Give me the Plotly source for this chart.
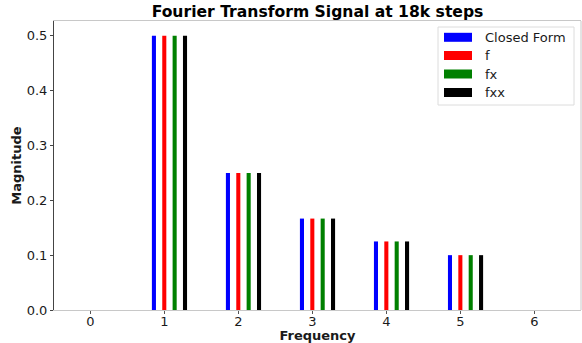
import plotly.graph_objects as go

frequencies = [1, 2, 3, 4, 5]
closed_form = [0.5, 0.25, 0.1667, 0.125, 0.1]
f_vals = [0.5, 0.25, 0.1667, 0.125, 0.1]
fx_vals = [0.5, 0.25, 0.1667, 0.125, 0.1]
fxx_vals = [0.5, 0.25, 0.1667, 0.125, 0.1]
series_names = ["Closed Form", "f", "fx", "fxx"]
x_ticks = [0, 1, 2, 3, 4, 5, 6]
y_ticks = [0.0, 0.1, 0.2, 0.3, 0.4, 0.5]

colors = ["#0000ff", "#ff0000", "#008000", "#000000"]
shifts = [-0.14, 0.0, 0.14, 0.28]
bar_w = 0.055

# plot area in pixels (for the hand-built legend box)
L, R, T, B = 54, 581, 21, 310


def px(xp):
    return (xp - L) / (R - L)


def py(yp):
    return (B - yp) / (B - T)


fig = go.Figure()
for name, vals, col, sh in zip(series_names, [closed_form, f_vals, fx_vals, fxx_vals], colors, shifts):
    fig.add_trace(go.Bar(
        x=frequencies, y=vals, width=bar_w, offset=sh - bar_w / 2,
        marker=dict(color=col, line=dict(width=0)), showlegend=False, name=name,
    ))

font_family = "DejaVu Sans"
fig.update_layout(
    width=582, height=343,
    margin=dict(l=L, r=582 - R, t=T, b=343 - B),
    barmode="overlay",
    showlegend=False,
    plot_bgcolor="white", paper_bgcolor="white",
    font=dict(family=font_family, size=13, color="#1a1a1a"),
    title=dict(text="<b>Fourier Transform Signal at 18k steps</b>", x=0.5, xref="paper",
               y=1 - 12 / 343, yref="container", xanchor="center", yanchor="middle",
               font=dict(size=15.6, family=font_family, color="#000")),
    xaxis=dict(range=[-0.49, 6.63], tickvals=x_ticks, ticktext=[str(t) for t in x_ticks],
               showgrid=False, zeroline=False, showline=True, linecolor="#c8c8c8", linewidth=1,
               mirror=True, ticks="outside", ticklen=3, tickcolor="#555",
               ticklabelstandoff=-4,
               title=dict(text="<b>Frequency</b>", standoff=0, font=dict(size=13))),
    yaxis=dict(range=[0, 0.527], tickvals=y_ticks, ticktext=[f"{t:.1f}" for t in y_ticks],
               showgrid=False, zeroline=False, showline=True, linecolor="#444", linewidth=1,
               ticks="outside", ticklen=3, tickcolor="#444",
               title=dict(text="<b>Magnitude</b>", standoff=2, font=dict(size=13))),
)
fig.add_shape(type="line", xref="paper", yref="paper", x0=1, x1=1, y0=0, y1=1,
              line=dict(color="#c8c8c8", width=1))

# legend box in matplotlib style
fig.add_shape(type="rect", xref="paper", yref="paper",
              x0=px(438), x1=px(574), y0=py(105), y1=py(27),
              line=dict(color="#dcdcdc", width=1), fillcolor="white", layer="above")
entry_y = [37.3, 55.5, 74, 92.5]
for name, col, ey in zip(series_names, colors, entry_y):
    fig.add_shape(type="rect", xref="paper", yref="paper",
                  x0=px(444), x1=px(472), y0=py(ey + 4.5), y1=py(ey - 4.5),
                  line=dict(width=0), fillcolor=col, layer="above")
    fig.add_annotation(text=name, xref="paper", yref="paper", x=px(483), y=py(ey),
                       xanchor="left", yanchor="middle", showarrow=False,
                       font=dict(size=13, family=font_family, color="#1a1a1a"))

fig.write_html("out.html")
